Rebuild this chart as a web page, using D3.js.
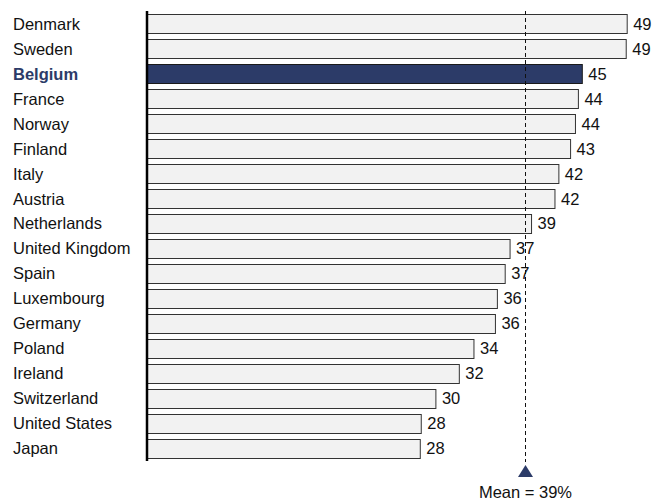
<!DOCTYPE html>
<html>
<head>
<meta charset="utf-8">
<script src="https://cdn.jsdelivr.net/npm/d3@7"></script>
<style>
  html, body { margin: 0; padding: 0; background: #fff; }
  svg { display: block; font-family: "Liberation Sans", Arial, sans-serif; }
</style>
</head>
<body>
<svg id="chart" width="652" height="502"></svg>
<script>
// Countries, top to bottom
const countries = ["Denmark", "Sweden", "Belgium", "France", "Norway", "Finland", "Italy",
  "Austria", "Netherlands", "United Kingdom", "Spain", "Luxembourg", "Germany", "Poland",
  "Ireland", "Switzerland", "United States", "Japan"];
// Share (%) per country
const values = [49.2, 49.1, 44.6, 44.2, 43.9, 43.4, 42.2, 41.8, 39.4, 37.2, 36.7, 35.9,
  35.7, 33.5, 32.0, 29.6, 28.1, 28.0];
const highlight = "Belgium";
const meanValue = 38.7;
const meanLabel = "Mean = 39%";

const data = countries.map((c, i) => ({ country: c, value: values[i] }));

const svg = d3.select("#chart");
const fontSize = 16.5;
const navy = "#2c3b68";

const x = d3.scaleLinear().domain([0, 50]).range([147, 635]);
const y = d3.scaleBand().domain(countries).range([11.5, 460.5]).padding(0);
const barH = 19;

// Bars
svg.append("g").selectAll("rect").data(data).join("rect")
  .attr("x", x(0))
  .attr("y", d => Math.round(y(d.country) + (y.bandwidth() - barH) / 2) + 0.5)
  .attr("width", d => x(d.value) - x(0))
  .attr("height", barH)
  .attr("fill", d => d.country === highlight ? navy : "#f2f2f2")
  .attr("stroke", d => d.country === highlight ? "#1a1a1a" : "#333")
  .attr("stroke-width", 1);

// Mean reference line
const mx = Math.round(x(meanValue)) + 0.5;
svg.append("line")
  .attr("x1", mx).attr("x2", mx)
  .attr("y1", 11).attr("y2", 462)
  .attr("stroke", "#111")
  .attr("stroke-width", 1)
  .attr("stroke-dasharray", "4,3");

svg.append("path")
  .attr("d", `M${mx},465 L${mx - 7.5},477 L${mx + 7.5},477 Z`)
  .attr("fill", navy);

svg.append("text")
  .attr("x", mx)
  .attr("y", 498)
  .attr("text-anchor", "middle")
  .attr("font-size", fontSize)
  .attr("fill", "#111")
  .text(meanLabel);

// Value labels
svg.append("g").selectAll("text").data(data).join("text")
  .attr("x", d => x(d.value) + 6)
  .attr("y", d => y(d.country) + y.bandwidth() / 2)
  .attr("dy", "0.36em")
  .attr("font-size", fontSize)
  .attr("fill", "#111")
  .text(d => d3.format(".0f")(d.value));

// Country labels
svg.append("g").selectAll("text").data(data).join("text")
  .attr("x", 13)
  .attr("y", d => y(d.country) + y.bandwidth() / 2)
  .attr("dy", "0.36em")
  .attr("font-size", fontSize)
  .attr("font-weight", d => d.country === highlight ? "bold" : "normal")
  .attr("fill", d => d.country === highlight ? navy : "#111")
  .text(d => d.country);

// Category axis line
svg.append("line")
  .attr("x1", x(0)).attr("x2", x(0))
  .attr("y1", 11).attr("y2", 461)
  .attr("stroke", "#000")
  .attr("stroke-width", 2.5);
</script>
</body>
</html>
